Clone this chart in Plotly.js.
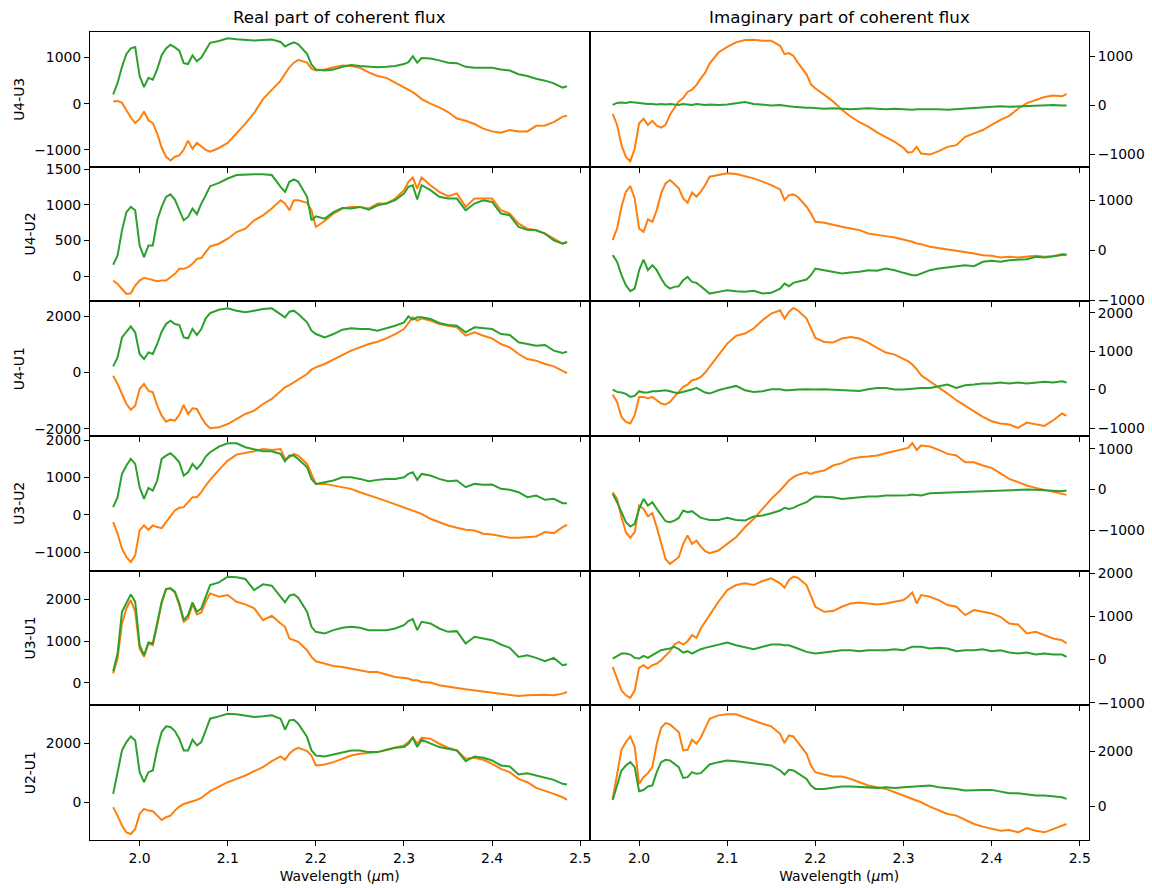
<!DOCTYPE html>
<html>
<head>
<meta charset="utf-8">
<script src="https://cdn.plot.ly/plotly-3.0.1.min.js"></script>
<style>html,body{margin:0;padding:0;background:#fff;}#chart{width:1152px;height:888px;}</style>
</head>
<body>
<div id="chart"></div>
<script>
// Wavelength grid (micron)
const W = [1.970,1.975,1.980,1.985,1.990,1.995,2.000,2.005,2.010,2.015,2.020,2.025,2.030,2.035,2.040,2.045,2.050,2.055,2.060,2.065,2.070,2.075,2.080,
  2.090,2.100,2.110,2.120,2.130,2.140,2.150,2.160,
  2.165,2.170,2.175,2.180,
  2.190,2.195,2.200,
  2.210,2.220,2.230,2.240,2.250,2.260,2.270,2.280,2.290,2.300,
  2.305,2.310,2.315,2.320,
  2.330,2.340,2.350,2.360,2.370,2.380,2.390,2.400,2.410,2.420,2.430,2.440,2.450,2.460,2.470,2.480,
  2.485];

const baselines = ['U4-U3','U4-U2','U4-U1','U3-U2','U3-U1','U2-U1'];
const colTitles = ['Real part of coherent flux','Imaginary part of coherent flux'];

// U4-U3
const re_U4U3_orange = [50,60,20,-150,-300,-420,-330,-170,-360,-420,-650,-950,-1150,-1230,-1150,-1120,-1000,-800,-980,-850,-920,-1000,-1040,
  -960,-850,-650,-430,-200,100,300,500,
  650,790,890,950,
  890,760,720,
  740,790,830,820,780,680,600,560,460,350,
  300,250,180,100,
  0,-80,-180,-320,-370,-440,-540,-600,-630,-570,-600,-600,-480,-470,-400,-280,
  -260];
const re_U4U3_green = [200,450,800,1080,1200,1230,600,360,560,520,750,1050,1200,1280,1220,1150,880,860,1050,920,1000,1150,1320,
  1360,1420,1400,1390,1370,1380,1390,1340,
  1240,1290,1330,1290,
  1080,850,740,
  720,740,800,840,820,800,790,800,820,860,
  900,1030,890,990,
  980,940,890,880,800,780,780,780,740,720,640,600,540,500,440,350,
  380];
const im_U4U3_orange = [-172,-400,-814,-1056,-1145,-883,-366,-276,-400,-317,-414,-455,-400,-193,-55,83,150,276,324,414,552,670,856,
  1083,1200,1290,1340,1345,1325,1325,1220,
  1050,1070,1015,876,
  635,428,345,
  220,83,-90,-228,-345,-435,-552,-642,-745,-870,
  -966,-952,-850,-987,
  -1007,-938,-850,-814,-642,-573,-504,-400,-297,-214,-69,48,117,172,200,186,
  235];
const im_U4U3_green = [10,50,60,50,70,60,40,40,30,30,20,30,20,30,20,10,30,20,10,30,20,10,20,
  10,20,40,70,30,20,0,10,
  -10,-20,-30,-40,
  -50,-50,-60,
  -70,-60,-70,-80,-70,-60,-70,-80,-70,-80,
  -90,-90,-80,-80,
  -70,-80,-90,-80,-70,-50,-40,-30,-20,-30,-20,-10,0,0,10,0,
  0];

// U4-U2
const re_U4U2_orange = [-61,-108,-180,-250,-240,-132,-61,-23,-38,-52,-70,-61,-61,-14,33,103,103,127,174,244,254,338,418,
  456,526,620,667,785,855,950,1067,
  1020,926,1067,1067,
  1029,926,691,
  775,879,950,973,973,950,1020,1020,1090,1208,
  1325,1386,1231,1386,
  1278,1184,1123,1161,973,1090,1090,1090,926,879,738,667,644,597,526,456,
  480];
const re_U4U2_green = [160,290,644,900,973,925,432,268,432,432,785,973,1114,1150,1076,926,785,832,950,870,1020,1137,1264,
  1311,1372,1420,1430,1433,1430,1420,1255,
  1184,1325,1358,1325,
  1114,785,841,
  808,900,958,950,973,935,996,1020,1067,1161,
  1255,1278,1076,1278,
  1208,1114,1090,1090,926,1020,1067,1043,879,855,691,653,644,597,503,456,
  480];
const im_U4U2_orange = [200,433,867,1167,1280,1033,433,367,613,567,800,1133,1333,1400,1320,1233,1033,947,1153,1067,1167,1300,1467,
  1500,1533,1520,1480,1433,1367,1300,1213,
  1000,1100,1113,1067,
  867,733,567,
  547,500,467,433,400,333,300,280,253,213,
  200,167,133,120,
  67,33,13,-13,-33,-67,-100,-113,-147,-133,-147,-133,-113,-133,-120,-80,
  -107];
const im_U4U2_green = [-100,-233,-500,-700,-820,-767,-400,-187,-400,-300,-400,-567,-700,-767,-733,-720,-600,-533,-633,-653,-720,-800,-867,
  -833,-800,-820,-833,-813,-867,-853,-767,
  -667,-720,-653,-633,
  -587,-500,-367,
  -400,-433,-467,-447,-433,-400,-413,-367,-400,-453,
  -480,-500,-500,-467,
  -400,-367,-347,-320,-300,-320,-233,-213,-233,-200,-187,-180,-133,-147,-120,-100,
  -80];

// U4-U1
const re_U4U1_orange = [-118,-414,-769,-1124,-1325,-1183,-592,-414,-651,-710,-1183,-1538,-1751,-1680,-1715,-1514,-1159,-1479,-1278,-1301,-1597,-1834,-1987,
  -1952,-1834,-1656,-1479,-1360,-1124,-946,-651,
  -532,-450,-355,-237,
  -59,95,177,
  296,450,592,769,887,1006,1088,1207,1360,1538,
  1751,1952,1834,1916,
  1834,1715,1656,1597,1301,1420,1301,1207,1006,887,651,473,414,296,213,59,
  -24];
const re_U4U1_green = [213,532,1242,1420,1633,1420,651,473,710,651,1006,1443,1715,1834,1715,1680,1242,1207,1538,1325,1538,1916,2106,
  2224,2272,2189,2130,2189,2248,2272,2070,
  1952,2153,2189,2070,
  1775,1479,1360,
  1242,1360,1514,1562,1538,1538,1479,1562,1656,1775,
  1987,1869,1952,1952,
  1893,1751,1680,1656,1420,1597,1562,1538,1360,1325,1065,1006,946,970,769,686,
  733];
const im_U4U1_orange = [-130,-321,-711,-841,-884,-668,-191,-191,-234,-191,-277,-364,-390,-321,-191,-61,69,130,243,269,330,442,590,
  893,1196,1396,1456,1587,1803,1977,2063,
  1847,2020,2124,2063,
  1847,1587,1344,
  1240,1222,1327,1370,1327,1222,1084,962,910,806,
  737,650,529,373,
  217,69,-104,-277,-425,-564,-711,-824,-884,-910,-997,-858,-910,-945,-798,-624,
  -685];
const im_U4U1_green = [0,-61,-78,-113,-191,-165,-43,-78,-78,-43,-43,-26,-17,-43,-78,-87,-61,-17,0,43,-17,-78,-104,
  -17,43,95,-17,-61,-43,9,9,
  -17,-17,0,0,
  9,0,0,
  9,0,-17,-17,-35,9,43,43,0,0,
  10,26,30,43,
  43,95,130,43,113,130,156,156,182,156,182,156,182,200,182,217,
  182];

// U3-U2
const re_U3U2_orange = [-196,-509,-911,-1134,-1268,-1089,-420,-286,-402,-286,-330,-357,-196,-45,116,188,205,339,473,473,607,786,938,
  1205,1455,1616,1652,1706,1768,1741,1768,
  1500,1545,1634,1590,
  1366,1098,830,
  830,786,759,697,607,518,447,366,277,188,
  143,116,71,27,
  -107,-196,-286,-348,-402,-420,-509,-527,-580,-616,-616,-598,-580,-464,-491,-330,
  -268];
const re_U3U2_green = [205,473,1098,1322,1500,1366,741,429,723,652,920,1500,1590,1652,1545,1411,1054,1143,1366,1232,1366,1563,1679,
  1831,1920,1920,1813,1768,1706,1706,1634,
  1438,1590,1590,1500,
  1277,964,830,
  875,920,1009,1009,964,902,938,964,964,1009,
  1098,1143,938,1098,
  1054,964,902,920,741,830,804,813,697,670,607,473,518,402,429,313,
  313];
const im_U3U2_orange = [-65,-229,-677,-1044,-1183,-1044,-392,-473,-653,-579,-922,-1330,-1697,-1820,-1738,-1656,-1330,-1126,-1330,-1248,-1395,-1510,-1559,
  -1493,-1330,-1167,-922,-718,-473,-229,-24,
  98,220,302,359,
  424,384,424,
  465,588,645,751,792,808,832,889,938,996,
  1020,1134,971,1077,
  1053,971,873,832,669,669,588,530,400,261,180,98,41,-8,-49,-106,
  -131];
const im_U3U2_green = [-106,-310,-555,-800,-906,-840,-473,-229,-392,-310,-473,-637,-775,-800,-759,-694,-514,-555,-530,-612,-694,-718,-743,
  -743,-694,-743,-759,-661,-637,-579,-514,
  -449,-473,-449,-392,
  -310,-229,-171,
  -188,-188,-229,-204,-188,-171,-171,-147,-147,-147,
  -140,-122,-130,-147,
  -90,-82,-65,-49,-41,-49,-24,-24,-8,0,-8,0,-8,-24,-41,-41,
  -24];

// U3-U1
const re_U3U1_orange = [224,584,1424,1784,1984,1704,824,624,944,904,1384,1904,2248,2264,2168,1864,1464,1544,1880,1640,1688,1944,2144,
  2064,2104,1944,1880,1784,1504,1608,1424,
  1344,1064,1024,984,
  784,624,520,
  464,408,384,344,304,264,264,200,144,120,
  104,64,64,24,
  8,-56,-96,-120,-152,-176,-200,-232,-256,-280,-312,-296,-280,-280,-296,-256,
  -216];
const re_U3U1_green = [280,704,1704,1904,2120,1944,904,664,968,944,1424,1944,2248,2264,2184,1904,1504,1624,1928,1704,1784,2064,2344,
  2408,2544,2528,2488,2224,2360,2328,2064,
  1928,2088,2120,2040,
  1704,1344,1224,
  1184,1264,1320,1344,1320,1264,1264,1264,1304,1384,
  1480,1528,1264,1464,
  1424,1304,1224,1240,944,1104,1064,1024,920,840,624,664,600,520,600,424,
  448];
const im_U3U1_orange = [-171,-442,-713,-829,-891,-713,-194,-132,-209,-132,-93,-16,101,194,349,411,349,426,566,504,721,891,1031,
  1341,1612,1728,1767,1728,1821,1883,1767,
  1666,1845,1922,1899,
  1728,1496,1225,
  1108,1124,1225,1302,1325,1302,1279,1302,1341,1380,
  1457,1558,1302,1496,
  1457,1380,1264,1225,1031,1147,1108,1070,992,837,814,604,643,566,488,450,
  372];
const im_U3U1_green = [23,78,140,140,116,39,23,85,39,101,163,217,240,256,295,240,163,194,140,194,240,271,295,
  333,395,333,295,240,295,349,349,
  330,333,300,256,
  178,160,140,
  163,194,217,217,194,217,217,217,240,217,
  260,295,295,295,
  256,271,256,194,217,217,240,194,217,163,140,163,116,140,116,116,
  62];

// U2-U1
const re_U2U1_orange = [-170,-452,-791,-1017,-1073,-904,-395,-226,-283,-305,-452,-599,-508,-452,-283,-147,-57,0,34,79,147,260,373,
  531,678,791,904,1051,1187,1390,1548,
  1435,1639,1774,1842,
  1729,1582,1243,
  1277,1356,1469,1582,1639,1661,1695,1774,1842,1921,
  2034,2204,1978,2181,
  2147,1978,1842,1752,1469,1503,1435,1300,1130,1017,791,678,486,396,283,170,
  79];
const re_U2U1_green = [283,960,1752,2034,2226,2090,1017,678,1017,1073,1808,2373,2565,2542,2407,2147,1752,1752,2113,1921,2034,2430,2825,
  2904,2995,2972,2938,2882,2904,2938,2825,
  2452,2769,2791,2656,
  2204,1752,1582,
  1548,1616,1695,1752,1752,1695,1695,1774,1842,1865,
  1978,2181,1865,2113,
  2000,1865,1808,1752,1390,1548,1503,1413,1243,1209,938,983,904,825,757,622,
  599];
const im_U2U1_orange = [279,1188,2060,2339,2545,2157,824,1067,1212,1430,2279,2860,3030,2982,2824,2703,2036,2060,2424,2279,2497,2824,3188,
  3309,3345,3345,3224,3103,3006,2909,2642,
  2303,2582,2545,2339,
  1915,1491,1248,
  1164,1091,1091,1006,885,764,703,642,521,400,
  339,279,218,158,
  0,-145,-267,-327,-485,-630,-727,-812,-873,-848,-933,-776,-873,-933,-812,-691,
  -630];
const im_U2U1_green = [242,764,1309,1491,1612,1430,560,600,727,764,1248,1612,1697,1673,1551,1430,1042,1067,1248,1188,1212,1370,1527,
  1612,1673,1648,1612,1576,1527,1491,1309,
  1164,1333,1309,1212,
  1006,764,642,
  642,679,727,727,703,679,679,703,679,703,
  715,727,740,764,
  764,703,679,642,582,606,606,606,558,485,485,436,400,400,364,339,
  279];

const realOrange = [re_U4U3_orange, re_U4U2_orange, re_U4U1_orange, re_U3U2_orange, re_U3U1_orange, re_U2U1_orange];
const realGreen  = [re_U4U3_green,  re_U4U2_green,  re_U4U1_green,  re_U3U2_green,  re_U3U1_green,  re_U2U1_green];
const imagOrange = [im_U4U3_orange, im_U4U2_orange, im_U4U1_orange, im_U3U2_orange, im_U3U1_orange, im_U2U1_orange];
const imagGreen  = [im_U4U3_green,  im_U4U2_green,  im_U4U1_green,  im_U3U2_green,  im_U3U1_green,  im_U2U1_green];

// ---- layout ----
const ORANGE = '#ff7f0e', GREEN = '#2ca02c';
const FONT = {family: 'DejaVu Sans, sans-serif', size: 13.9, color: '#000'};
const XR = [1.9437, 2.5105];
const leftRanges  = [[-1365,1555],[-353,1538],[-2260,2521],[-1500,2116],[-536,2688],[-1277,3277]];
const rightRanges = [[-1255,1503],[-1022,1667],[-1208,2295],[-1985,1310],[-1062,2062],[-1212,3673]];
const leftDtick  = [1000,500,2000,1000,1000,2000];
const rightDtick = [1000,1000,1000,1000,1000,2000];

const traces = [];
const layout = {
  width: 1152, height: 888,
  margin: {l: 90, r: 63, t: 32, b: 48},
  paper_bgcolor: '#fff', plot_bgcolor: '#fff',
  showlegend: false, hovermode: false,
  font: FONT,
  annotations: []
};

const axisCommon = {
  showline: true, mirror: true, linecolor: '#000', linewidth: 1,
  ticks: 'outside', ticklen: 5, tickwidth: 1, tickcolor: '#000',
  showgrid: false, zeroline: false, tickfont: FONT
};

for (let r = 0; r < 6; r++) {
  const top = 1 - r / 6, bot = 1 - (r + 1) / 6;
  for (let c = 0; c < 2; c++) {
    const idx = 2 * r + c + 1;
    const xk = idx === 1 ? 'xaxis' : 'xaxis' + idx;
    const yk = idx === 1 ? 'yaxis' : 'yaxis' + idx;
    const xr = idx === 1 ? 'x' : 'x' + idx;
    const yr = idx === 1 ? 'y' : 'y' + idx;
    layout[xk] = Object.assign({}, axisCommon, {
      domain: c === 0 ? [0, 0.5] : [0.5, 1],
      anchor: yr, range: XR, tick0: 2.0, dtick: 0.1, tickformat: '.1f',
      showticklabels: r === 5,
      title: r === 5 ? {text: 'Wavelength (<i>μ</i>m)', font: FONT, standoff: 6} : {text: ''}
    });
    layout[yk] = Object.assign({}, axisCommon, {
      domain: [bot, top], anchor: xr,
      range: c === 0 ? leftRanges[r] : rightRanges[r],
      tick0: 0, dtick: c === 0 ? leftDtick[r] : rightDtick[r],
      side: c === 0 ? 'left' : 'right',
      title: c === 0 ? {text: baselines[r], font: FONT, standoff: 6} : {text: ''}
    });
    const o = c === 0 ? realOrange[r] : imagOrange[r];
    const g = c === 0 ? realGreen[r] : imagGreen[r];
    traces.push({x: W, y: o, xaxis: xr, yaxis: yr, type: 'scatter', mode: 'lines',
                 line: {color: ORANGE, width: 2}});
    traces.push({x: W, y: g, xaxis: xr, yaxis: yr, type: 'scatter', mode: 'lines',
                 line: {color: GREEN, width: 2}});
  }
}

colTitles.forEach((t, c) => {
  layout.annotations.push({
    text: t, xref: 'paper', yref: 'paper', x: c === 0 ? 0.25 : 0.75, y: 1,
    xanchor: 'center', yanchor: 'bottom', yshift: 3, showarrow: false,
    font: {family: FONT.family, size: 16.7, color: '#000'}
  });
});

Plotly.newPlot('chart', traces, layout, {staticPlot: true, displayModeBar: false});
</script>
</body>
</html>
